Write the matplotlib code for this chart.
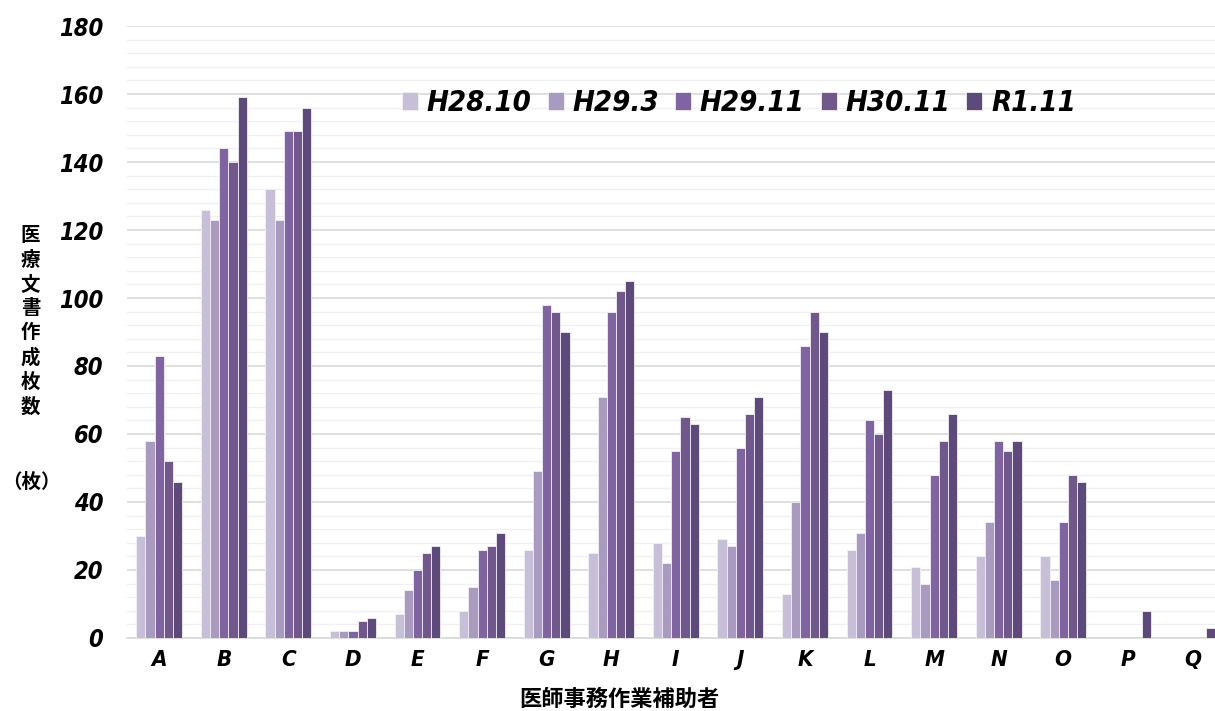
import numpy as np
import matplotlib
matplotlib.use("Agg")
from matplotlib import pyplot as plt
from matplotlib.ticker import MultipleLocator

# 医師事務作業補助者ごとの医療文書作成枚数
staff = ['A', 'B', 'C', 'D', 'E', 'F', 'G', 'H', 'I', 'J', 'K', 'L', 'M', 'N', 'O', 'P', 'Q']
periods = ['H28.10', 'H29.3', 'H29.11', 'H30.11', 'R1.11']

h28_10 = [30, 126, 132, 2, 7, 8, 26, 25, 28, 29, 13, 26, 21, 24, 24, 0, 0]
h29_3 = [58, 123, 123, 2, 14, 15, 49, 71, 22, 27, 40, 31, 16, 34, 17, 0, 0]
h29_11 = [83, 144, 149, 2, 20, 26, 98, 96, 55, 56, 86, 64, 48, 58, 34, 0, 0]
h30_11 = [52, 140, 149, 5, 25, 27, 96, 102, 65, 66, 96, 60, 58, 55, 48, 0, 0]
r1_11 = [46, 159, 156, 6, 27, 31, 90, 105, 63, 71, 90, 73, 66, 58, 46, 8, 3]

series = [h28_10, h29_3, h29_11, h30_11, r1_11]
colors = ['#c7bfd7', '#a99bc0', '#8064a2', '#70588d', '#5e4a7a']

num_font = dict(family='DejaVu Sans', stretch='condensed',
                weight='bold', style='italic')
jp_font = ['Noto Sans CJK JP', 'DejaVu Sans']

fig = plt.figure(figsize=(12.15, 7.11), dpi=100)
ax = fig.add_axes([0.1045, 0.1027, 0.8955, 0.8607])

x = np.arange(len(staff))
w = 0.142
for k, (vals, col, lab) in enumerate(zip(series, colors, periods)):
    ax.bar(x + (k - 2) * w, vals, width=w, color=col, edgecolor='#f2eff6',
           linewidth=0.6, label=lab, zorder=3)

ax.set_xlim(-0.5, 16.35)
ax.set_ylim(0, 180)
ax.yaxis.set_major_locator(MultipleLocator(20))
ax.yaxis.set_minor_locator(MultipleLocator(4))
ax.grid(True, which='major', axis='y', color='#d9d9d9', lw=1.2, zorder=0)
ax.grid(True, which='minor', axis='y', color='#f0f0f0', lw=1.0, zorder=0)
ax.tick_params(which='both', length=0)
ax.tick_params(axis='y', pad=17)
ax.tick_params(axis='x', pad=9)
for s in ['top', 'right', 'left']:
    ax.spines[s].set_visible(False)
ax.spines['bottom'].set_color('#d9d9d9')
ax.spines['bottom'].set_linewidth(1.2)

ax.set_xticks(x)
ax.set_xticklabels(staff, fontsize=16, **num_font)
ax.set_yticks(np.arange(0, 181, 20))
ax.set_yticklabels([str(v) for v in range(0, 181, 20)], fontsize=17, **num_font)

ax.set_xlabel('医師事務作業補助者', family=jp_font, weight='bold',
              fontsize=16, labelpad=10)
ax.xaxis.set_label_coords(0.453, -0.081)

# 縦書きの軸ラベル
fig.text(0.025, 0.548, '\n'.join('医療文書作成枚数'), family=jp_font,
         weight='bold', fontsize=14, ha='center', va='center', linespacing=1.35)
fig.text(0.026, 0.322, '（枚）', family=jp_font, weight='bold', fontsize=14,
         ha='center', va='center')

leg = ax.legend(loc='center', bbox_to_anchor=(0.5625, 0.874), ncol=5,
                frameon=False, handlelength=0.55, handleheight=0.55,
                handletextpad=0.3, columnspacing=0.55,
                prop=dict(family='DejaVu Sans', stretch='condensed',
                          weight='bold', style='italic', size=21))

fig.savefig('out.png', dpi=100)
